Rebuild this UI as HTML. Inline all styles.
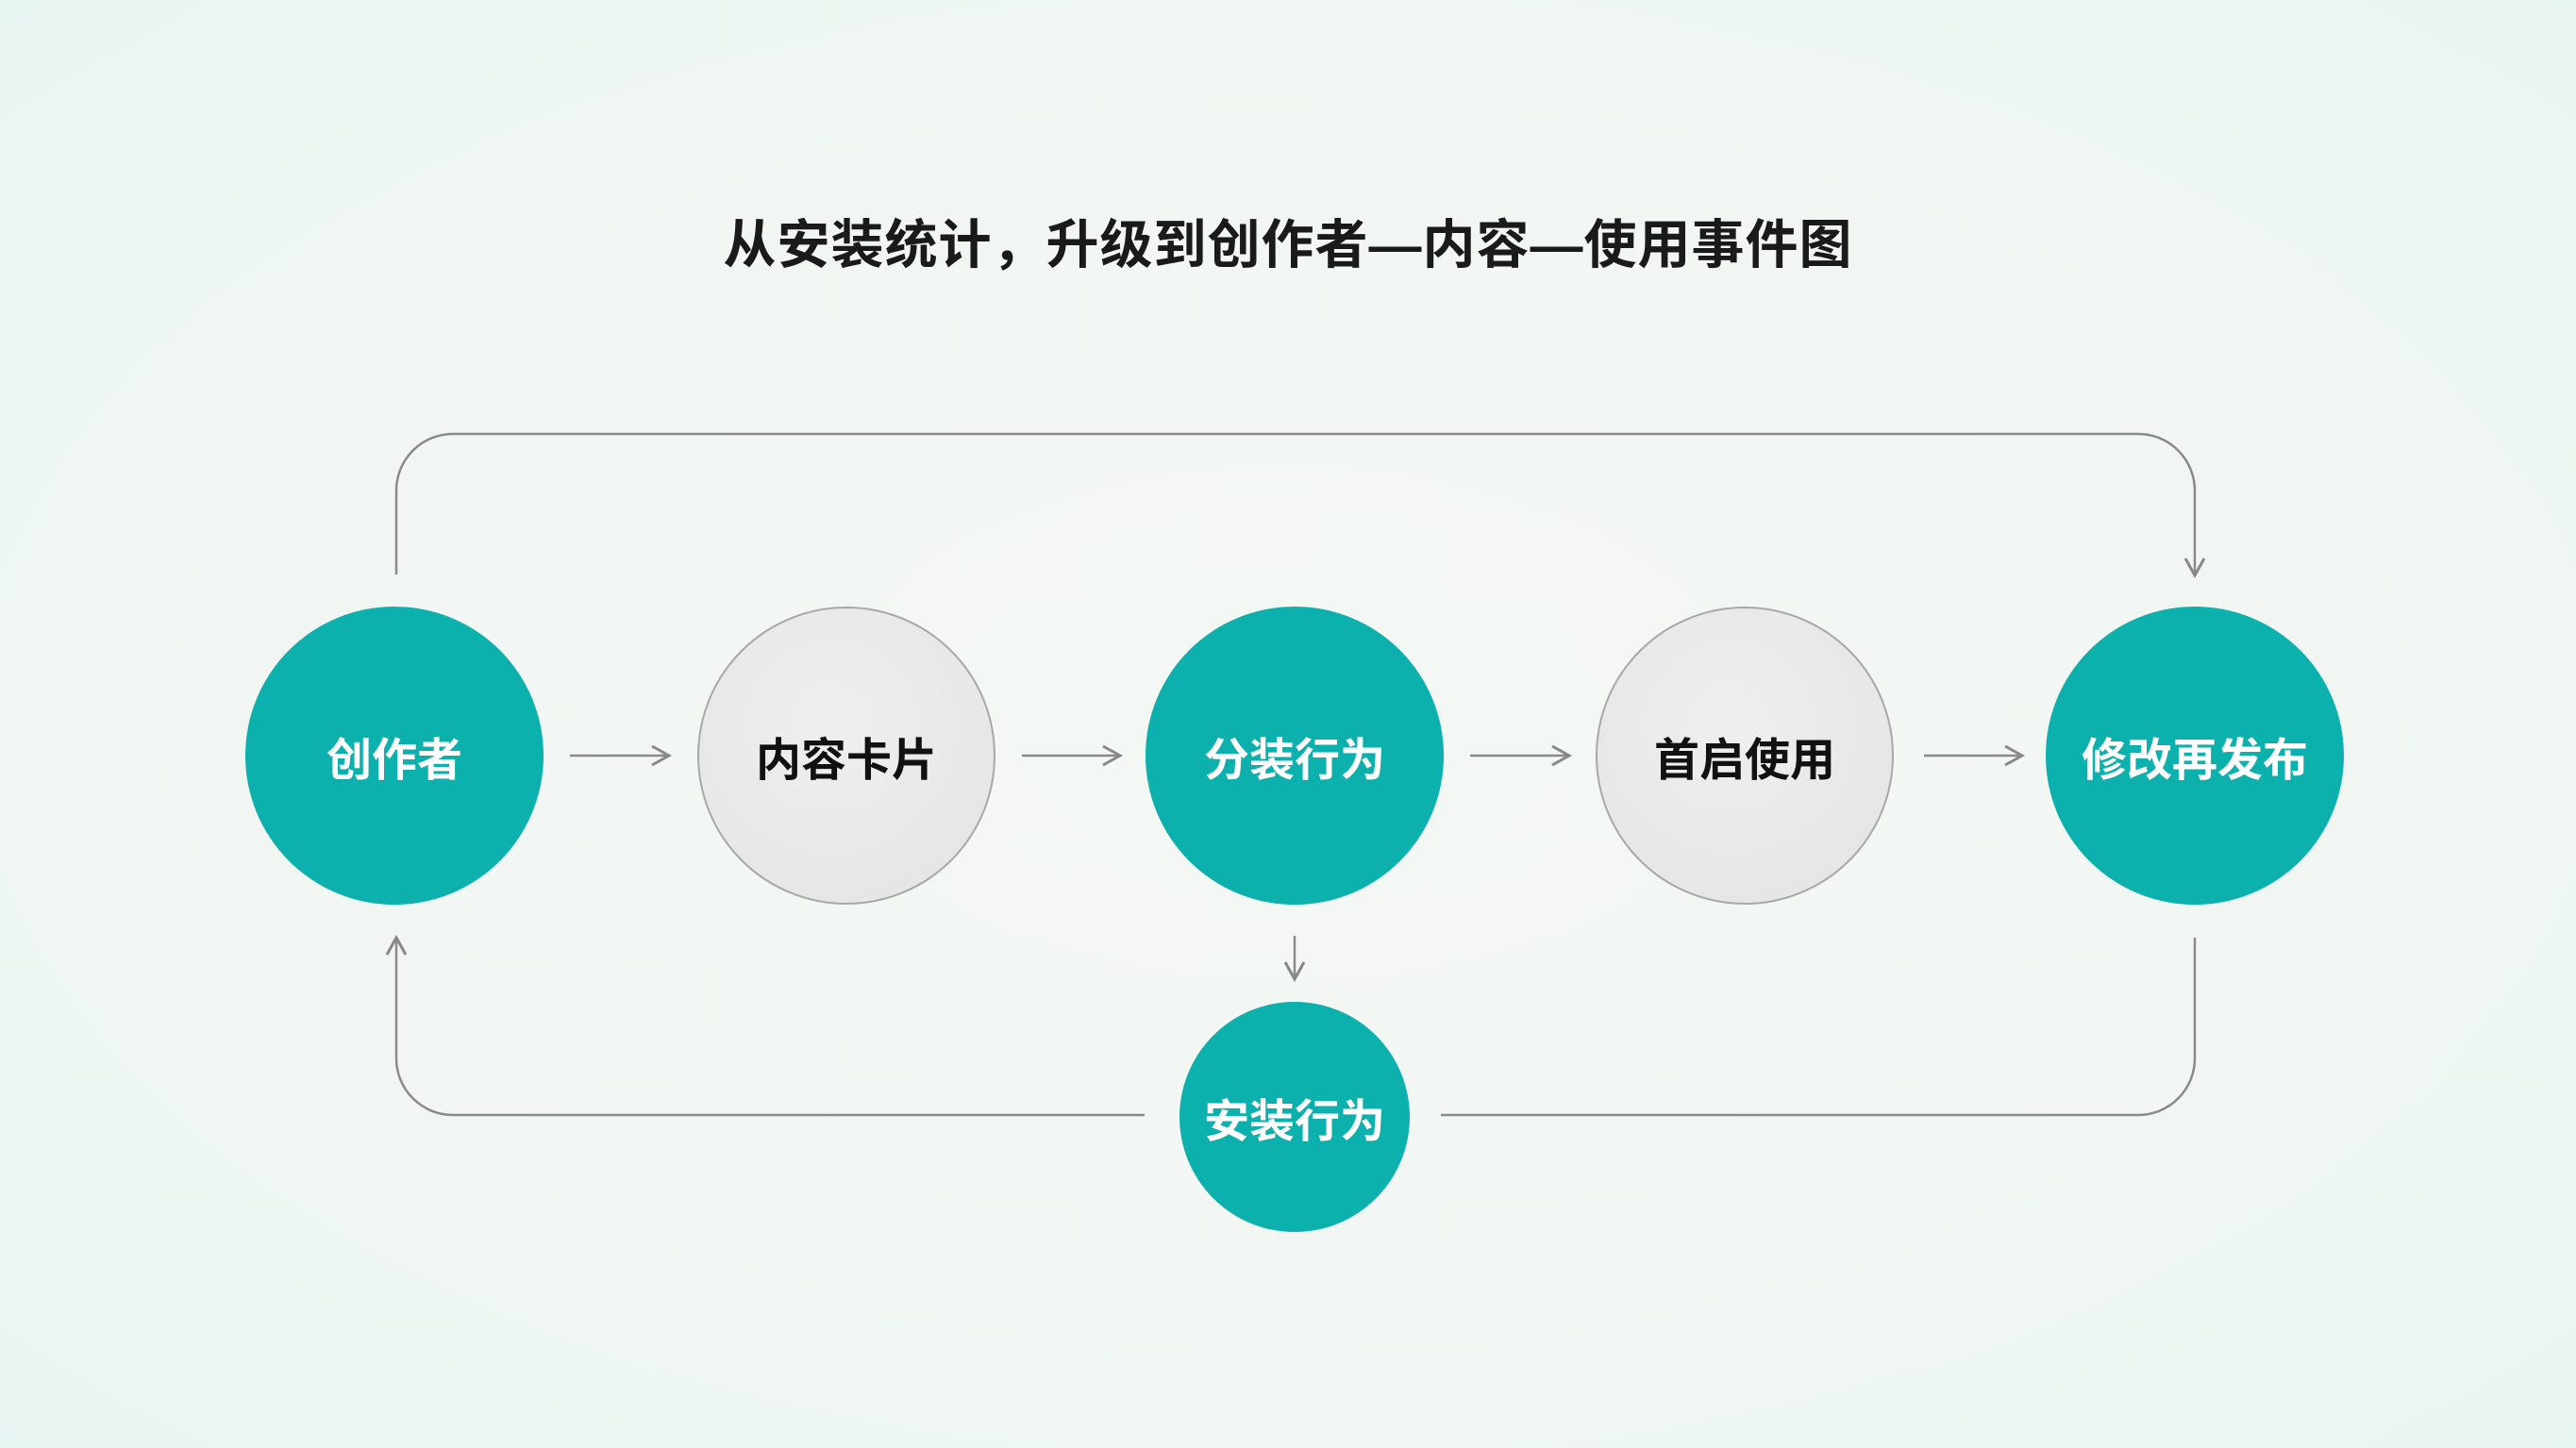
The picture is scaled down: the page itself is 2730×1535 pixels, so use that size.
<!DOCTYPE html>
<html><head><meta charset="utf-8"><style>
html,body{margin:0;padding:0;}
body{width:2730px;height:1535px;background:radial-gradient(ellipse at 50% 50%,#f5f8f5 0%,#f1f6f3 60%,#e9f5f2 100%);position:relative;overflow:hidden;font-family:"Liberation Sans","Noto Sans CJK SC",sans-serif;}
.t{position:absolute;left:0;width:2730px;top:215px;text-align:center;font-size:56px;font-weight:bold;color:#1a1a1a;letter-spacing:1px;}
.c{position:absolute;border-radius:50%;display:flex;align-items:center;justify-content:center;font-size:48px;font-weight:bold;box-sizing:border-box;}
.g{background:radial-gradient(circle at 45% 40%,#efefef,#e3e3e3);border:2px solid #a8a8a8;color:#111;}
.k{background:#0cb0ac;color:#fff;}
</style></head><body>
<div class="t">从安装统计，升级到创作者—内容—使用事件图</div>
<svg width="2730" height="1535" style="position:absolute;left:0;top:0">
<defs><marker id="a" markerWidth="12" markerHeight="12" refX="10" refY="6" orient="auto" markerUnits="userSpaceOnUse"><path d="M0,0 L11,6 L0,12" fill="none" stroke="#888" stroke-width="3"/></marker>
<marker id="b" markerWidth="24" markerHeight="24" refX="20" refY="12" orient="auto" markerUnits="userSpaceOnUse"><path d="M2,2 L20,12 L2,22" fill="none" stroke="#888" stroke-width="3"/></marker></defs>
<g fill="none" stroke="#8a8a8a" stroke-width="2.5">
<path d="M420,609 V520 A60,60 0 0 1 480,460 H2266 A60,60 0 0 1 2326,520 V610" marker-end="url(#b)"/>
<path d="M1213,1182 H480 A60,60 0 0 1 420,1122 V994" marker-end="url(#b)"/>
<path d="M1527,1182 H2266 A60,60 0 0 0 2326,1122 V994"/>
<path d="M604,801 H709" marker-end="url(#b)"/>
<path d="M1083,801 H1187" marker-end="url(#b)"/>
<path d="M1558,801 H1663" marker-end="url(#b)"/>
<path d="M2039,801 H2143" marker-end="url(#b)"/>
<path d="M1372,992 V1038" marker-end="url(#b)"/>
</g></svg>
<div class="c k" style="left:260px;top:643px;width:316px;height:316px">创作者</div>
<div class="c g" style="left:739px;top:643px;width:316px;height:316px">内容卡片</div>
<div class="c k" style="left:1214px;top:643px;width:316px;height:316px">分装行为</div>
<div class="c g" style="left:1691px;top:643px;width:316px;height:316px">首启使用</div>
<div class="c k" style="left:2168px;top:643px;width:316px;height:316px">修改再发布</div>
<div class="c k" style="left:1250px;top:1062px;width:244px;height:244px">安装行为</div>
</body></html>
